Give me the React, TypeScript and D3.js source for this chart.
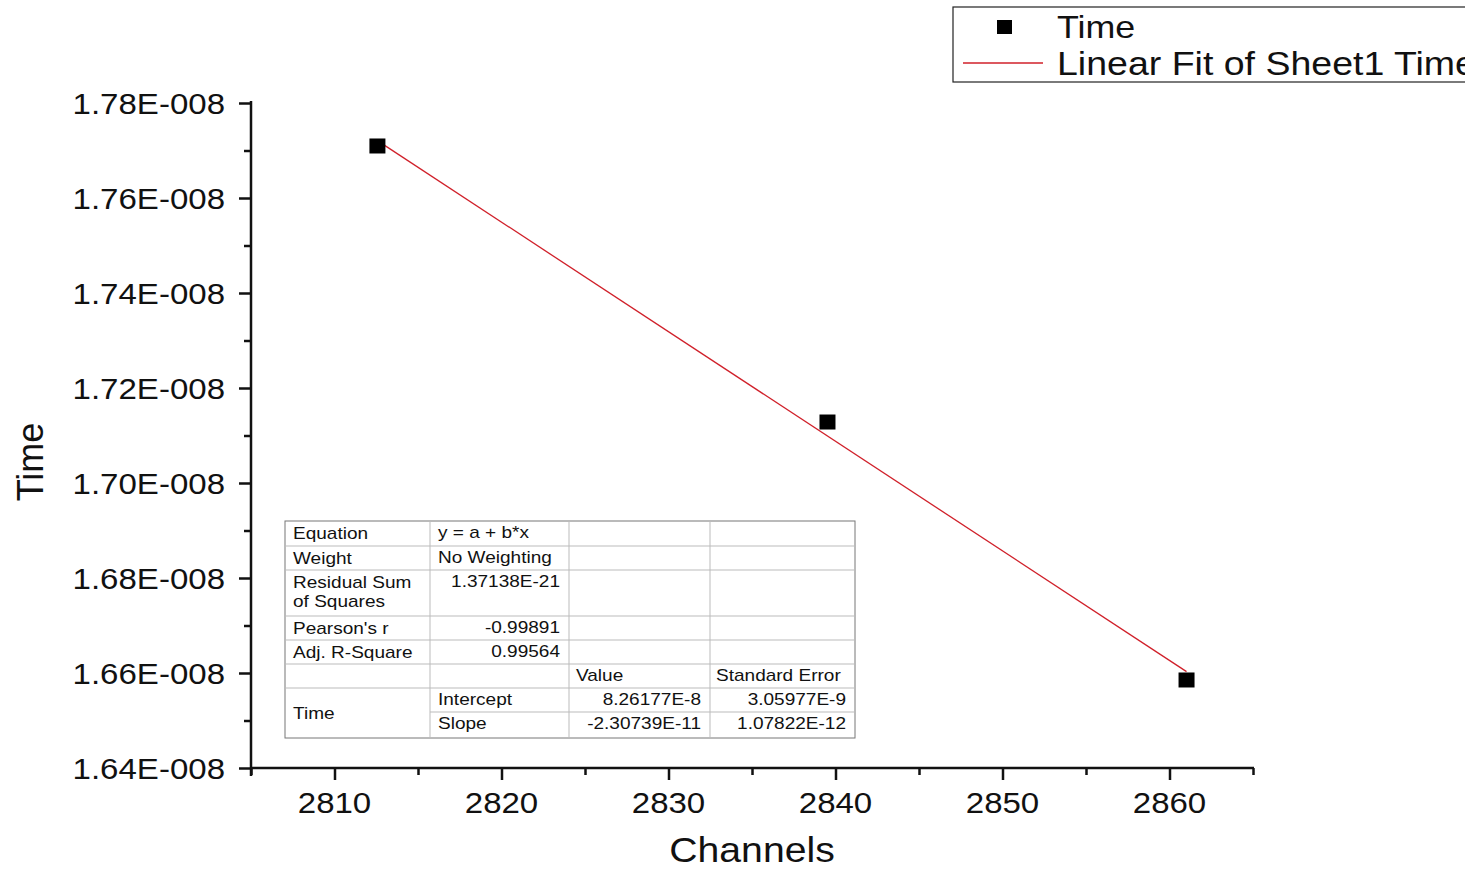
import React, { useEffect, useRef } from 'react';
import * as d3 from 'd3';

// measured points (Channels vs Time)
const channels = [2812.57, 2839.52, 2861.02];
const times = [1.77095e-8, 1.71284e-8, 1.65853e-8];

const xTicks = [2810, 2820, 2830, 2840, 2850, 2860];
const xMinorTicks = [2805, 2815, 2825, 2835, 2845, 2855, 2865];
const yTicks = [1.64e-8, 1.66e-8, 1.68e-8, 1.70e-8, 1.72e-8, 1.74e-8, 1.76e-8, 1.78e-8];
const yTickLabels = ['1.64E-008', '1.66E-008', '1.68E-008', '1.70E-008', '1.72E-008', '1.74E-008', '1.76E-008', '1.78E-008'];
const yMinorTicks = [1.65e-8, 1.67e-8, 1.69e-8, 1.71e-8, 1.73e-8, 1.75e-8, 1.77e-8];

// linear fit result
const fitIntercept = 8.26177e-8;
const fitSlope = -2.30739e-11;

const statNames = ['Equation', 'Weight', 'Residual Sum|of Squares', "Pearson's r", 'Adj. R-Square'];
const statValues = ['y = a + b*x', 'No Weighting', '1.37138E-21', '-0.99891', '0.99564'];
const paramGroup = 'Time';
const paramNames = ['Intercept', 'Slope'];
const paramValues = ['8.26177E-8', '-2.30739E-11'];
const paramErrors = ['3.05977E-9', '1.07822E-12'];

const FONT = '"Liberation Sans", Arial, sans-serif';
const SX = 1.12;

const App = () => {
  const ref = useRef<SVGSVGElement>(null);

  useEffect(() => {
    const svg = d3.select(ref.current);
    svg.selectAll('*').remove();

    const x = d3.scaleLinear().domain([2805, 2865]).range([251, 1253]);
    const y = d3.scaleLinear().domain([1.64e-8, 1.78e-8]).range([768, 103]);

    const txt = (g: any, s: string, tx: number, ty: number, size: number, anchor = 'start') =>
      g.append('text')
        .attr('transform', `translate(${tx},${ty}) scale(${SX},1)`)
        .attr('text-anchor', anchor)
        .attr('font-family', FONT)
        .attr('font-size', size)
        .attr('fill', '#111')
        .text(s);

    // axes
    const xAxis = svg.append('g').attr('transform', 'translate(0,768)')
      .call(d3.axisBottom(x).tickValues(xTicks).tickSize(12).tickSizeOuter(0).tickFormat(() => ''));
    svg.append('g').attr('transform', 'translate(0,768)')
      .call(d3.axisBottom(x).tickValues(xMinorTicks).tickSize(7).tickSizeOuter(0).tickFormat(() => ''))
      .select('.domain').remove();
    const yAxis = svg.append('g').attr('transform', 'translate(251,0)')
      .call(d3.axisLeft(y).tickValues(yTicks).tickSize(12).tickSizeOuter(0).tickFormat(() => ''));
    svg.append('g').attr('transform', 'translate(251,0)')
      .call(d3.axisLeft(y).tickValues(yMinorTicks).tickSize(7).tickSizeOuter(0).tickFormat(() => ''))
      .select('.domain').remove();
    svg.selectAll('.domain, .tick line').attr('stroke', '#111').attr('stroke-width', 2.5);
    xAxis.select('.domain').attr('d', 'M250,0H1254');
    yAxis.select('.domain').attr('d', 'M0,101V776');

    xTicks.forEach(t => txt(svg, String(t), x(t), 813, 29.5, 'middle'));
    yTicks.forEach((t, i) => txt(svg, yTickLabels[i], 225, y(t) + 10.5, 29.5, 'end'));

    txt(svg, 'Channels', 752, 862, 35, 'middle');
    svg.append('text')
      .attr('transform', 'translate(43,462) rotate(-90)')
      .attr('text-anchor', 'middle')
      .attr('font-family', FONT)
      .attr('font-size', 36)
      .attr('fill', '#111')
      .text('Time');

    // fit line
    const xr = d3.extent(channels) as [number, number];
    svg.append('path')
      .datum(xr)
      .attr('fill', 'none')
      .attr('stroke', '#d0202a')
      .attr('stroke-width', 1.3)
      .attr('d', d3.line<number>().x(d => x(d)).y(d => y(fitIntercept + fitSlope * d)));

    // points
    svg.selectAll('.pt').data(channels).enter().append('rect')
      .attr('x', d => x(d) - 8)
      .attr('y', (d, i) => y(times[i]) - 7.5)
      .attr('width', 16)
      .attr('height', 15)
      .attr('fill', '#000');

    // stats table
    const cols = [285, 430, 569, 710, 855];
    const rows = [521, 546, 570, 616, 640, 664, 688, 712, 738];
    const tb = svg.append('g');
    tb.append('rect').attr('x', cols[0]).attr('y', rows[0])
      .attr('width', cols[4] - cols[0]).attr('height', rows[8] - rows[0])
      .attr('fill', '#fff').attr('stroke', '#777').attr('stroke-width', 1);
    const ln = (x1: number, y1: number, x2: number, y2: number) =>
      tb.append('line').attr('x1', x1).attr('y1', y1).attr('x2', x2).attr('y2', y2)
        .attr('stroke', '#bbb').attr('stroke-width', 1);
    rows.slice(1, 7).forEach(r => ln(cols[0], r, cols[4], r));
    ln(cols[1], rows[7], cols[4], rows[7]);
    cols.slice(1, 4).forEach(c => ln(c, rows[0], c, rows[8]));

    const fs = 17;
    statNames.forEach((s, i) => {
      const parts = s.split('|');
      parts.forEach((p, j) => txt(tb, p, 293, rows[i] + 18 + j * 19, fs));
      const right = i >= 2;
      txt(tb, statValues[i], right ? 560 : 438, rows[i] + 17, fs, right ? 'end' : 'start');
    });
    txt(tb, 'Value', 576, rows[5] + 17, fs);
    txt(tb, 'Standard Error', 716, rows[5] + 17, fs);
    txt(tb, paramGroup, 293, (rows[6] + rows[8]) / 2 + 6, fs);
    paramNames.forEach((p, i) => {
      txt(tb, p, 438, rows[6 + i] + 17, fs);
      txt(tb, paramValues[i], 701, rows[6 + i] + 17, fs, 'end');
      txt(tb, paramErrors[i], 846, rows[6 + i] + 17, fs, 'end');
    });

    // legend
    const lg = svg.append('g');
    lg.append('rect').attr('x', 953).attr('y', 7).attr('width', 700).attr('height', 75)
      .attr('fill', '#fff').attr('stroke', '#222').attr('stroke-width', 1.2);
    lg.append('rect').attr('x', 997).attr('y', 20).attr('width', 15).attr('height', 14).attr('fill', '#000');
    lg.append('line').attr('x1', 963).attr('x2', 1043).attr('y1', 63).attr('y2', 63)
      .attr('stroke', '#d0202a').attr('stroke-width', 1.3);
    txt(lg, 'Time', 1057, 38, 32);
    txt(lg, 'Linear Fit of Sheet1 Time', 1057, 75, 33.5);
  }, []);

  return (
    <svg ref={ref} width={1465} height={870}
      style={{ position: 'absolute', left: 0, top: 0, background: '#fff' }} />
  );
};

export default App;
